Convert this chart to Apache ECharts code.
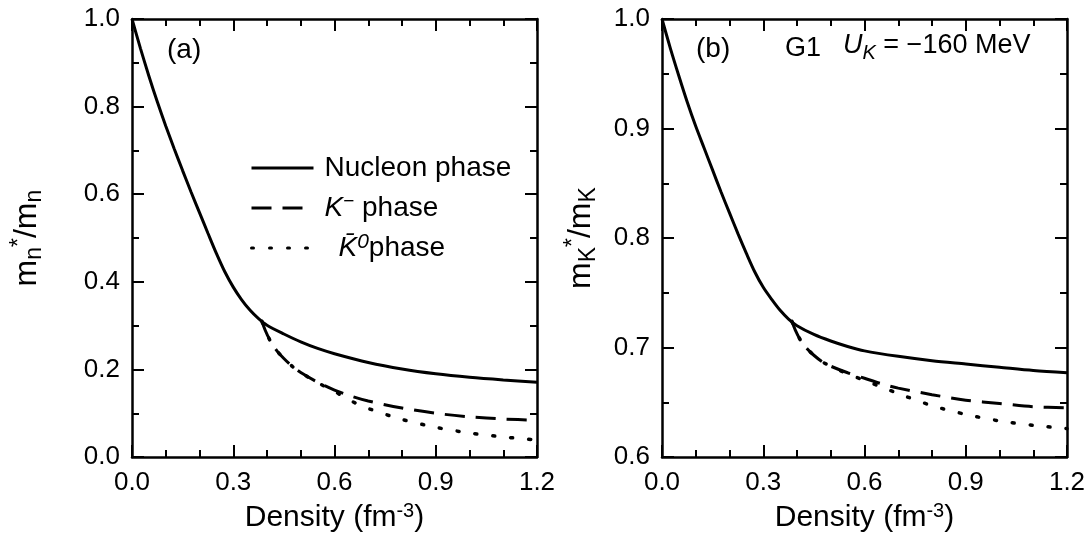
<!DOCTYPE html>
<html>
<head>
<meta charset="utf-8">
<script src="https://cdn.jsdelivr.net/npm/echarts@6/dist/echarts.min.js"></script>
<style>
html,body{margin:0;padding:0;background:#fff;}
#chart{width:1091px;height:538px;}
</style>
</head>
<body>
<div id="chart"></div>
<script>
// ---- Data ----
// Panel (a): nucleon effective mass m_n*/m_n
var nucA_x = [0, 0.025, 0.05, 0.075, 0.1, 0.125, 0.15, 0.175, 0.2, 0.225, 0.25, 0.275, 0.3, 0.325, 0.35, 0.375, 0.4, 0.45, 0.5, 0.55, 0.6, 0.7, 0.8, 0.9, 1.0, 1.1, 1.2];
var nucA_y = [1.0, 0.933, 0.87, 0.811, 0.756, 0.704, 0.654, 0.605, 0.558, 0.511, 0.465, 0.423, 0.388, 0.359, 0.335, 0.316, 0.301, 0.281, 0.263, 0.248, 0.236, 0.216, 0.201, 0.19, 0.182, 0.176, 0.171];
var kA_x   = [0.385, 0.395, 0.41, 0.43, 0.45, 0.475, 0.5, 0.55, 0.6, 0.65, 0.7, 0.8, 0.9, 1.0, 1.1, 1.2];
var kmA_y  = [0.31, 0.289, 0.265, 0.242, 0.225, 0.207, 0.193, 0.171, 0.153, 0.139, 0.128, 0.112, 0.100, 0.092, 0.087, 0.084];
var k0A_y  = [0.31, 0.289, 0.265, 0.242, 0.225, 0.207, 0.193, 0.170, 0.150, 0.128, 0.111, 0.086, 0.068, 0.055, 0.046, 0.039];

// Panel (b): kaon effective mass m_K*/m_K
var nucB_x = [0, 0.025, 0.05, 0.075, 0.1, 0.125, 0.15, 0.175, 0.2, 0.225, 0.25, 0.275, 0.3, 0.325, 0.35, 0.375, 0.4, 0.45, 0.5, 0.55, 0.6, 0.7, 0.8, 0.9, 1.0, 1.1, 1.2];
var nucB_y = [1.0, 0.973, 0.948, 0.924, 0.902, 0.882, 0.862, 0.842, 0.823, 0.804, 0.786, 0.769, 0.755, 0.744, 0.734, 0.726, 0.72, 0.712, 0.706, 0.701, 0.697, 0.692, 0.688, 0.685, 0.682, 0.679, 0.677];
var kB_x   = [0.385, 0.395, 0.41, 0.43, 0.45, 0.475, 0.5, 0.55, 0.6, 0.65, 0.7, 0.8, 0.9, 1.0, 1.1, 1.2];
var kmB_y  = [0.724, 0.716, 0.707, 0.699, 0.693, 0.687, 0.683, 0.677, 0.672, 0.667, 0.663, 0.657, 0.652, 0.649, 0.646, 0.645];
var k0B_y  = [0.724, 0.716, 0.707, 0.699, 0.693, 0.687, 0.683, 0.676, 0.670, 0.664, 0.658, 0.647, 0.639, 0.633, 0.629, 0.626];

var seriesNames = ['Nucleon phase', 'K- phase', 'K0 phase'];
var xTicks = [0.0, 0.3, 0.6, 0.9, 1.2];
var yTicksA = [0.0, 0.2, 0.4, 0.6, 0.8, 1.0];
var yTicksB = [0.6, 0.7, 0.8, 0.9, 1.0];

function pairs(xs, ys){ return xs.map(function(x,i){ return [x, ys[i]]; }); }

var FONT = '"Liberation Sans", Arial, sans-serif';
var chart = echarts.init(document.getElementById('chart'), null, {renderer:'canvas'});

function xAxisDef(grid, pos){
  return {
    type:'value', gridIndex:grid, position:pos, min:xTicks[0], max:xTicks[xTicks.length-1], interval:0.3,
    axisLine:{show:true, onZero:false, lineStyle:{color:'#000', width:2.5}},
    axisTick:{show:true, inside:true, length:12, lineStyle:{color:'#000', width:2}},
    minorTick:{show:true, splitNumber:3, length:7, lineStyle:{color:'#000', width:2}},
    splitLine:{show:false}, minorSplitLine:{show:false},
    axisLabel:{show: pos==='bottom', margin:13, color:'#000', fontSize:26, fontFamily:FONT,
      formatter:function(v){ return v.toFixed(1); }},
    name: pos==='bottom' ? '{t|Density (fm}{s|-3}{t|)}' : '',
    nameLocation:'middle', nameGap:38,
    nameTextStyle:{rich:{
      t:{fontSize:30, fontFamily:FONT, color:'#000', lineHeight:32, verticalAlign:'bottom'},
      s:{fontSize:20, fontFamily:FONT, color:'#000', lineHeight:32, verticalAlign:'top'}
    }}
  };
}
function yAxisDef(grid, pos, ticks, interval, nameStr, gap){
  return {
    type:'value', gridIndex:grid, position:pos, min:ticks[0], max:ticks[ticks.length-1], interval:interval,
    axisLine:{show:true, onZero:false, lineStyle:{color:'#000', width:2.5}},
    axisTick:{show:true, inside:true, length:12, lineStyle:{color:'#000', width:2}},
    minorTick:{show:true, splitNumber:2, length:7, lineStyle:{color:'#000', width:2}},
    splitLine:{show:false}, minorSplitLine:{show:false},
    axisLabel:{show: pos==='left', margin:12, color:'#000', fontSize:26, fontFamily:FONT,
      formatter:function(v){ return v.toFixed(1); }},
    name: pos==='left' ? nameStr : '',
    nameLocation:'middle', nameRotate:90, nameGap:gap,
    nameTextStyle:{rich:{
      m:{fontSize:32, fontFamily:FONT, color:'#000', lineHeight:38, verticalAlign:'middle'},
      sub:{fontSize:23, fontFamily:FONT, color:'#000', lineHeight:38, verticalAlign:'bottom'},
      sup:{fontSize:23, fontFamily:FONT, color:'#000', lineHeight:38, verticalAlign:'top'}
    }}
  };
}

var lineBase = {type:'line', symbol:'none', smooth:0.3, clip:true, z:3};
function mk(name, grid, xs, ys, type, w){
  return Object.assign({}, lineBase, {
    name:name, xAxisIndex:grid*2, yAxisIndex:grid*2,
    data:pairs(xs, ys),
    lineStyle:{color:'#000', width:w, type:type, cap: Array.isArray(type) && type[0] < 5 ? 'round' : 'butt'},
    itemStyle:{color:'#000'}
  });
}

var dashT = [20, 11];
var dotT = [2, 16];

var option = {
  backgroundColor:'#fff',
  animation:false,
  grid:[
    {left:132, top:19, width:405, height:442},
    {left:662, top:19, width:405, height:442}
  ],
  xAxis:[ xAxisDef(0,'bottom'), xAxisDef(0,'top'), xAxisDef(1,'bottom'), xAxisDef(1,'top') ],
  yAxis:[
    yAxisDef(0,'left', yTicksA, 0.2, '{m|m}{sub|n}{sup|*}{m|/m}{sub|n}', 86),
    yAxisDef(0,'right', yTicksA, 0.2, '', 0),
    yAxisDef(1,'left', yTicksB, 0.1, '{m|m}{sub|K}{sup|*}{m|/m}{sub|K}', 62),
    yAxisDef(1,'right', yTicksB, 0.1, '', 0)
  ],
  legend:{
    show:true, orient:'vertical', left:250, top:154, padding:0, itemWidth:62, itemHeight:18, itemGap:10,
    data:seriesNames, selectedMode:false,
    itemStyle:{opacity:0},
    lineStyle:{width:3},
    textStyle:{color:'#000', fontFamily:FONT, fontSize:28, rich:{
      t:{fontSize:28, fontFamily:FONT, color:'#000', lineHeight:32},
      i:{fontSize:28, fontFamily:FONT, fontStyle:'italic', color:'#000', lineHeight:32},
      sup:{fontSize:19, fontFamily:FONT, color:'#000', lineHeight:32, verticalAlign:'top'},
      supi:{fontSize:21, fontFamily:FONT, fontStyle:'italic', color:'#000', lineHeight:32, verticalAlign:'top'},
      g:{width:6, lineHeight:32},
      sp:{width:20, lineHeight:32}
    }},
    formatter:function(name){
      if (name === seriesNames[0]) return '{g|}{t|Nucleon phase}';
      if (name === seriesNames[1]) return '{g|}{i|K}{sup|\u2212}{t| phase}';
      return '{sp|}{i|K\u0304}{supi|0}{t|phase}';
    }
  },
  graphic:[
    {type:'text', left:167, top:36, style:{text:'(a)', fontSize:28, fontFamily:FONT, fill:'#000'}},
    {type:'text', left:696, top:35, style:{text:'(b)', fontSize:28, fontFamily:FONT, fill:'#000'}},
    {type:'text', left:785, top:35, style:{text:'G1', fontSize:27, fontFamily:FONT, fill:'#000'}},
    {type:'text', left:843, top:32, style:{
      text:'{i|U}{sub|K}{t| = \u2212160 MeV}',
      rich:{
        i:{fontSize:27, fontFamily:FONT, fontStyle:'italic', fill:'#000', lineHeight:36, verticalAlign:'middle'},
        sub:{fontSize:20, fontFamily:FONT, fontStyle:'italic', fill:'#000', lineHeight:36, verticalAlign:'bottom'},
        t:{fontSize:27, fontFamily:FONT, fill:'#000', lineHeight:36, verticalAlign:'middle'}
      }
    }}
  ],
  series:[
    mk(seriesNames[0], 0, nucA_x, nucA_y, 'solid', 3),
    mk(seriesNames[1], 0, kA_x, kmA_y, dashT, 3),
    mk(seriesNames[2], 0, kA_x, k0A_y, dotT, 3.5),
    mk(seriesNames[0], 1, nucB_x, nucB_y, 'solid', 3),
    mk(seriesNames[1], 1, kB_x, kmB_y, dashT, 3),
    mk(seriesNames[2], 1, kB_x, k0B_y, dotT, 3.5)
  ]
};
chart.setOption(option);
</script>
</body>
</html>
